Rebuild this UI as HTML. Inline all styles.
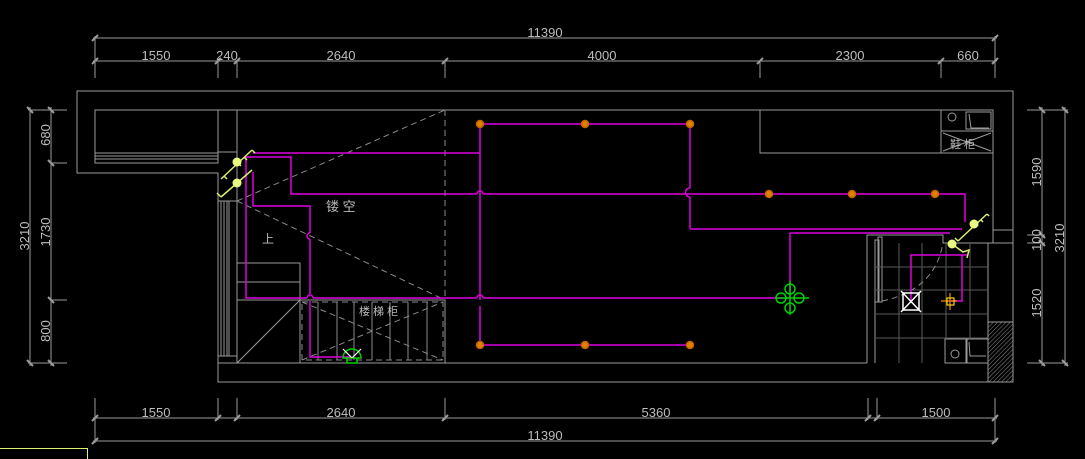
<!DOCTYPE html>
<html><head><meta charset="utf-8"><style>
html,body{margin:0;padding:0;background:#000;}
svg{display:block}
text{font-family:"Liberation Sans","Noto Sans CJK SC",sans-serif;fill:#bdbdbd;font-size:13px;}
</style></head><body>
<svg width="1085" height="459" viewBox="0 0 1085 459" xmlns="http://www.w3.org/2000/svg">
<rect width="1085" height="459" fill="#000"/>
<g stroke="#9a9a9a" stroke-width="1" fill="none">
<!-- top dims -->
<line x1="93" y1="38" x2="997" y2="38"/>
<line x1="93" y1="61" x2="997" y2="61"/>
<g>
<line x1="95" y1="36" x2="95" y2="78"/><line x1="218" y1="61" x2="218" y2="78"/><line x1="237" y1="61" x2="237" y2="78"/>
<line x1="445" y1="61" x2="445" y2="78"/><line x1="760" y1="61" x2="760" y2="78"/><line x1="941" y1="61" x2="941" y2="78"/><line x1="995" y1="36" x2="995" y2="78"/>
</g>
<g stroke-width="2">
<line x1="92" y1="41" x2="98" y2="35"/><line x1="92" y1="64" x2="98" y2="58"/><line x1="215" y1="64" x2="221" y2="58"/><line x1="234" y1="64" x2="240" y2="58"/>
<line x1="442" y1="64" x2="448" y2="58"/><line x1="757" y1="64" x2="763" y2="58"/><line x1="938" y1="64" x2="944" y2="58"/><line x1="992" y1="64" x2="998" y2="58"/><line x1="992" y1="41" x2="998" y2="35"/>
</g>
<!-- bottom dims -->
<line x1="93" y1="418" x2="997" y2="418"/>
<line x1="93" y1="441" x2="997" y2="441"/>
<line x1="95" y1="398" x2="95" y2="443"/><line x1="218" y1="398" x2="218" y2="420"/><line x1="237" y1="398" x2="237" y2="420"/>
<line x1="445" y1="398" x2="445" y2="420"/><line x1="868" y1="398" x2="868" y2="420"/><line x1="877" y1="398" x2="877" y2="420"/><line x1="995" y1="398" x2="995" y2="443"/>
<g stroke-width="2">
<line x1="92" y1="421" x2="98" y2="415"/><line x1="92" y1="444" x2="98" y2="438"/><line x1="215" y1="421" x2="221" y2="415"/><line x1="234" y1="421" x2="240" y2="415"/>
<line x1="442" y1="421" x2="448" y2="415"/><line x1="865" y1="421" x2="871" y2="415"/><line x1="874" y1="421" x2="880" y2="415"/><line x1="992" y1="421" x2="998" y2="415"/><line x1="992" y1="444" x2="998" y2="438"/>
</g>
<!-- left dims -->
<line x1="30" y1="107" x2="30" y2="366"/><line x1="51" y1="107" x2="51" y2="366"/>
<line x1="28" y1="110" x2="67" y2="110"/><line x1="51" y1="163" x2="67" y2="163"/><line x1="51" y1="300" x2="67" y2="300"/><line x1="28" y1="363" x2="67" y2="363"/>
<g stroke-width="2">
<line x1="27" y1="107" x2="33" y2="113"/><line x1="48" y1="107" x2="54" y2="113"/><line x1="48" y1="160" x2="54" y2="166"/><line x1="48" y1="297" x2="54" y2="303"/><line x1="27" y1="360" x2="33" y2="366"/><line x1="48" y1="360" x2="54" y2="366"/>
</g>
<!-- right dims -->
<line x1="1042" y1="107" x2="1042" y2="366"/><line x1="1065" y1="107" x2="1065" y2="366"/>
<line x1="1027" y1="110" x2="1068" y2="110"/><line x1="1027" y1="235" x2="1045" y2="235"/><line x1="1027" y1="243" x2="1045" y2="243"/><line x1="1027" y1="363" x2="1068" y2="363"/>
<g stroke-width="2">
<line x1="1039" y1="107" x2="1045" y2="113"/><line x1="1062" y1="107" x2="1068" y2="113"/><line x1="1039" y1="232" x2="1045" y2="238"/><line x1="1039" y1="240" x2="1045" y2="246"/><line x1="1039" y1="360" x2="1045" y2="366"/><line x1="1062" y1="360" x2="1068" y2="366"/>
</g>
<!-- walls -->
<path d="M77 91 H1013 V382 H218 V173 H77 Z"/>
<path d="M95 110 H218 V163 H95 Z"/>
<line x1="95" y1="153" x2="218" y2="153"/><line x1="95" y1="156" x2="218" y2="156"/><line x1="95" y1="159" x2="218" y2="159"/>
<path d="M237 110 H760 M760 110 V153 H993 V110 M993 110 V243 M760 110 H993"/>
<path d="M218 110 H237 V363 H867 M218 363 H237"/>
<line x1="218" y1="201" x2="237" y2="201"/><line x1="218" y1="356" x2="237" y2="356"/>
<line x1="221" y1="201" x2="221" y2="356"/><line x1="224" y1="201" x2="224" y2="356"/><line x1="227" y1="201" x2="227" y2="356"/><line x1="229" y1="201" x2="229" y2="356"/>
<line x1="218" y1="152" x2="237" y2="152"/>
<!-- stairs -->
<path d="M237 263 H300 V300 M237 282 H300 M237 300 H445 V363 M300 300 V363 M237 363 L300 300"/>
<!-- cabinet right top -->
<rect x="941" y="110" width="52" height="21"/><rect x="941" y="131" width="52" height="22"/>
<circle cx="952" cy="117" r="4"/><rect x="966" y="112" width="25" height="17"/>
<path d="M969 114 L971 128 L989 128" />
<line x1="943" y1="133" x2="991" y2="151"/><line x1="943" y1="151" x2="991" y2="133"/>
<line x1="993" y1="230" x2="1013" y2="230"/><line x1="993" y1="243" x2="1013" y2="243"/>
<!-- bathroom -->
<path d="M867 363 V235 H943 V243 H988 V363 M988 243 H1013"/>
<line x1="875" y1="243" x2="875" y2="363"/>
<rect x="875" y="240" width="4" height="62"/><rect x="878" y="237" width="4" height="65"/>
<rect x="945" y="339" width="21" height="24"/><circle cx="955" cy="354" r="4"/>
<rect x="967" y="339" width="21" height="24"/><path d="M969 342 L970 356 L986 356"/>
</g>
<!-- tile grid -->
<g stroke="#5a5a5a" stroke-width="1">
<line x1="899" y1="243" x2="899" y2="363"/><line x1="922" y1="243" x2="922" y2="363"/><line x1="946" y1="243" x2="946" y2="339"/><line x1="970" y1="243" x2="970" y2="339"/>
<line x1="875" y1="267" x2="988" y2="267"/><line x1="875" y1="290" x2="988" y2="290"/><line x1="875" y1="314" x2="988" y2="314"/><line x1="875" y1="338" x2="988" y2="338"/>
</g>
<!-- hatch -->
<defs><pattern id="h" width="3" height="3" patternUnits="userSpaceOnUse" patternTransform="rotate(45)"><line x1="0" y1="0" x2="0" y2="3" stroke="#888" stroke-width="1"/></pattern></defs>
<rect x="988" y="322" width="25" height="60" fill="url(#h)" stroke="#9a9a9a"/>
<!-- dashed -->
<g stroke="#8a8a8a" stroke-width="1" fill="none" stroke-dasharray="6,4">
<line x1="445" y1="110" x2="445" y2="300"/>
<line x1="237" y1="201" x2="445" y2="110"/>
<line x1="237" y1="201" x2="445" y2="300"/>
<rect x="302" y="302" width="141" height="58"/>
<line x1="302" y1="302" x2="443" y2="360"/><line x1="302" y1="360" x2="443" y2="302"/>
<path d="M882 301 Q935 290 943 243"/>
</g>
<g stroke="#8a8a8a" stroke-width="1">
<line x1="318" y1="302" x2="318" y2="360"/><line x1="337" y1="302" x2="337" y2="360"/><line x1="354" y1="302" x2="354" y2="360"/><line x1="372" y1="302" x2="372" y2="360"/><line x1="390" y1="302" x2="390" y2="360"/><line x1="408" y1="302" x2="408" y2="360"/><line x1="427" y1="302" x2="427" y2="360"/>
</g>
<!-- magenta wiring -->
<g stroke="#e000e0" stroke-width="1.5" fill="none">
<path d="M480 124 H690 M480 345 H690 M480 124 V300 M480 306 V345 M690 124 V188 M690 197 V229"/>
<path d="M253 153 H480"/>
<path d="M246 157 H291 V194 H477 M483 194 H965 V222"/>
<path d="M690 229 H962"/>
<path d="M790 298 V233 H950"/>
<path d="M246 157 V298 H307 M313 298 H477 M483 298 H790"/>
<path d="M253 172 V206 H310 V233 M310 239 V294 M310 301 V357 H350"/>
<path d="M911 301 V255 H968 M962 255 V263 M962 260 V301 H951"/>
<path d="M477 194 a3 3 0 0 1 6 0 M477 298 a3 3 0 0 1 6 0 M307 298 a3 3 0 0 1 6 0 M690 188 a4 4 0 0 0 0 9 M310 233 a3 3 0 0 0 0 6"/>
</g>
<!-- lamps -->
<g stroke="#c86400" stroke-width="1.5" fill="#e08000">
<circle cx="480" cy="124" r="3.5"/><circle cx="585" cy="124" r="3.5"/><circle cx="690" cy="124" r="3.5"/>
<circle cx="480" cy="345" r="3.5"/><circle cx="585" cy="345" r="3.5"/><circle cx="690" cy="345" r="3.5"/>
<circle cx="769" cy="194" r="3.5"/><circle cx="852" cy="194" r="3.5"/><circle cx="935" cy="194" r="3.5"/>
</g>
<!-- green fixture -->
<g stroke="#00d000" stroke-width="1.5" fill="none">
<circle cx="790" cy="289" r="5"/><circle cx="790" cy="308" r="5"/><circle cx="781" cy="298" r="5"/><circle cx="799" cy="298" r="5"/>
<line x1="776" y1="298" x2="809" y2="298"/><line x1="790" y1="281" x2="790" y2="315"/>
<path d="M343 358 a9 9 0 0 1 18 0 Z"/><path d="M347 358 V363 H357 V358"/>
</g>
<g stroke="#fff" stroke-width="1.2"><line x1="343" y1="349" x2="352" y2="358"/><line x1="352" y1="358" x2="361" y2="349"/></g>
<!-- bathroom X fixture -->
<g stroke="#fff" stroke-width="1.5" fill="none"><rect x="903" y="293" width="16" height="17"/><line x1="901" y1="291" x2="921" y2="312"/><line x1="921" y1="291" x2="901" y2="312"/></g>
<g stroke="#ff8c00" stroke-width="1.2"><line x1="941" y1="301" x2="957" y2="301"/><line x1="950" y1="293" x2="950" y2="310"/></g>
<rect x="947" y="298" width="7" height="7" fill="none" stroke="#ffd000" stroke-width="1.2"/>
<!-- switches -->
<g stroke="#d8f070" stroke-width="1.5" fill="none">
<path d="M221 179 L252 150 M252 150 L255 153 M244 157 l3 3 M238 163 l3 3 M224 176 l3 3"/>
<path d="M221 197 L252 170 M221 197 L217 193"/>
<path d="M958 241 L987 214 M987 214 L989 216 M981 220 l2 2 M976 224 l2 2 M958 241 L955 238"/>
<path d="M952 244 L963 252 L969 250 L967 258"/>
</g>
<g fill="#e8f880"><circle cx="237" cy="162" r="4.5"/><circle cx="237" cy="183" r="4.5"/><circle cx="974" cy="224" r="4.5"/><circle cx="952" cy="244" r="4.5"/></g>
<!-- labels -->
<text x="545" y="37" text-anchor="middle">11390</text>
<text x="156" y="60" text-anchor="middle">1550</text>
<text x="227" y="60" text-anchor="middle">240</text>
<text x="341" y="60" text-anchor="middle">2640</text>
<text x="602" y="60" text-anchor="middle">4000</text>
<text x="850" y="60" text-anchor="middle">2300</text>
<text x="968" y="60" text-anchor="middle">660</text>
<text x="156" y="417" text-anchor="middle">1550</text>
<text x="341" y="417" text-anchor="middle">2640</text>
<text x="656" y="417" text-anchor="middle">5360</text>
<text x="936" y="417" text-anchor="middle">1500</text>
<text x="545" y="440" text-anchor="middle">11390</text>
<text transform="translate(29,236) rotate(-90)" text-anchor="middle">3210</text>
<text transform="translate(50,135) rotate(-90)" text-anchor="middle">680</text>
<text transform="translate(50,232) rotate(-90)" text-anchor="middle">1730</text>
<text transform="translate(50,331) rotate(-90)" text-anchor="middle">800</text>
<text transform="translate(1041,172) rotate(-90)" text-anchor="middle">1590</text>
<text transform="translate(1041,240) rotate(-90)" text-anchor="middle">100</text>
<text transform="translate(1041,303) rotate(-90)" text-anchor="middle">1520</text>
<text transform="translate(1064,238) rotate(-90)" text-anchor="middle">3210</text>
<text x="326" y="211" style="font-size:13px">镂 空</text>
<text x="262" y="243" style="font-size:12px">上</text>
<text x="359" y="315" style="font-size:11px">楼 梯 柜</text>
<text x="950" y="148" style="font-size:11px">鞋 柜</text>
</svg>
<div style="position:absolute;left:0;top:448px;width:88px;height:11px;border-top:1px solid #e0f070;border-right:1px solid #e0f070;box-sizing:border-box"></div>
</body></html>
